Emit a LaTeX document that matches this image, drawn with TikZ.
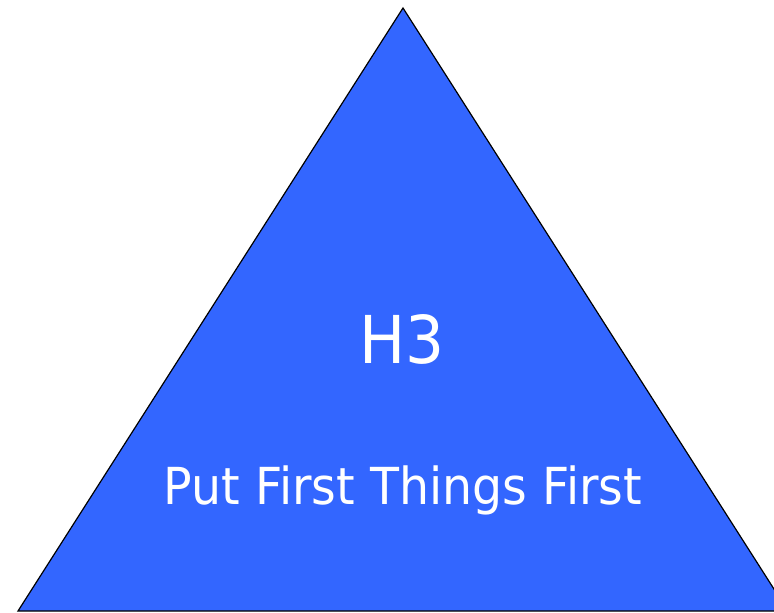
\documentclass[tikz,border=0pt]{standalone}
\usepackage{fontspec}
\setmainfont{DejaVu Sans}[FakeStretch=0.93]
\usetikzlibrary{positioning}
\definecolor{habitblue}{RGB}{51,102,255}

\begin{document}
\begin{tikzpicture}[
		x=1pt, y=-1pt,
		habitlabel/.style={text=white, anchor=base, inner sep=0pt}
	]
		\useasboundingbox (0,0) rectangle (774,613);
		\clip (0,0) rectangle (774,613);
		\coordinate (apex) at (403,8);
		\coordinate (left) at (18,611);
		\coordinate (right) at (788,611);
		\draw[fill=habitblue, line width=1.2pt, line join=miter] (apex) -- (left) -- (right) -- cycle;
		\node[habitlabel, font=\fontsize{66}{70}\selectfont] (title) at (402,363) {H3};
		\node[habitlabel, font=\fontsize{51}{55}\selectfont] (habit) at (403,504) {Put First Things First};
	\end{tikzpicture}
\end{document}
